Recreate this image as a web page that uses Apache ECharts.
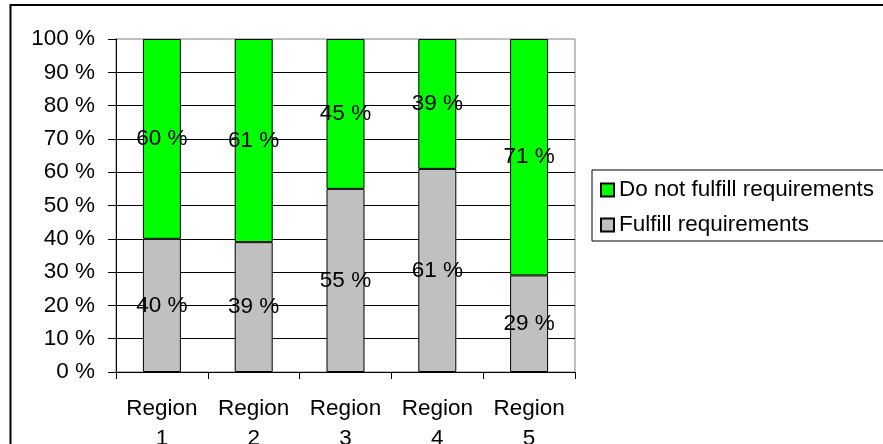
<!DOCTYPE html>
<html><head><meta charset="utf-8">
<script src="https://cdn.jsdelivr.net/npm/echarts@6/dist/echarts.min.js"></script>
<style>html,body{margin:0;padding:0;background:#fff}#c{width:883px;height:444px}</style>
</head><body><div id="c"></div>
<script>
const categories = ['Region\n1', 'Region\n2', 'Region\n3', 'Region\n4', 'Region\n5'];
const fulfill = [40, 39, 55, 61, 29];
const notFulfill = [60, 61, 45, 39, 71];
const seriesNames = ['Do not fulfill requirements', 'Fulfill requirements'];

const FONT = '"Liberation Sans", Arial, sans-serif';
const FS = 22.5;
const chart = echarts.init(document.getElementById('c'), null, {renderer: 'canvas'});
chart.setOption({
  animation: false,
  backgroundColor: '#fff',
  textStyle: {fontFamily: FONT},
  graphic: [{
    type: 'rect', shape: {x: 10.5, y: 5, width: 900, height: 500},
    style: {fill: 'none', stroke: '#000', lineWidth: 2}, z: 100
  }],
  grid: {left: 116, right: 308, top: 39, bottom: 72, containLabel: false, outerBoundsMode: 'none',
    show: true, borderColor: '#808080', borderWidth: 1, backgroundColor: 'transparent'},
  legend: {
    orient: 'vertical', left: 592, top: 170,
    data: [seriesNames[0], seriesNames[1]],
    itemWidth: 13, itemHeight: 13, itemGap: 11, itemTextGap: 11,
    padding: [8, 30, 4, 8],
    borderColor: '#000', borderWidth: 1,
    icon: 'rect',
    textStyle: {fontSize: FS, color: '#000', fontFamily: FONT, lineHeight: 24}
  },
  xAxis: {
    type: 'category', data: categories,
    axisLine: {lineStyle: {color: '#000', width: 1}},
    axisTick: {show: true, length: 7, lineStyle: {color: '#000'}},
    axisLabel: {fontSize: FS, color: '#000', lineHeight: 30, margin: 22, interval: 0, fontFamily: FONT},
    splitLine: {show: false}
  },
  yAxis: {
    type: 'value', min: 0, max: 100, interval: 10,
    axisLine: {show: true, lineStyle: {color: '#000', width: 1}},
    axisTick: {show: true, length: 8, lineStyle: {color: '#000'}},
    axisLabel: {fontSize: FS, color: '#000', margin: 21, formatter: '{value} %', fontFamily: FONT},
    splitLine: {show: true, showMaxLine: false, lineStyle: {color: '#000', width: 1}}
  },
  series: [{
    name: seriesNames[1], type: 'bar', stack: 'a', data: fulfill,
    barWidth: 38,
    itemStyle: {color: '#C0C0C0', borderColor: '#000', borderWidth: 1},
    label: {show: true, position: 'inside', formatter: '{c} %', fontSize: FS, color: '#000', fontFamily: FONT}
  }, {
    name: seriesNames[0], type: 'bar', stack: 'a', data: notFulfill,
    barWidth: 38,
    itemStyle: {color: '#00FF00', borderColor: '#000', borderWidth: 1},
    label: {show: true, position: 'inside', formatter: '{c} %', fontSize: FS, color: '#000', fontFamily: FONT}
  }]
});
</script></body></html>
